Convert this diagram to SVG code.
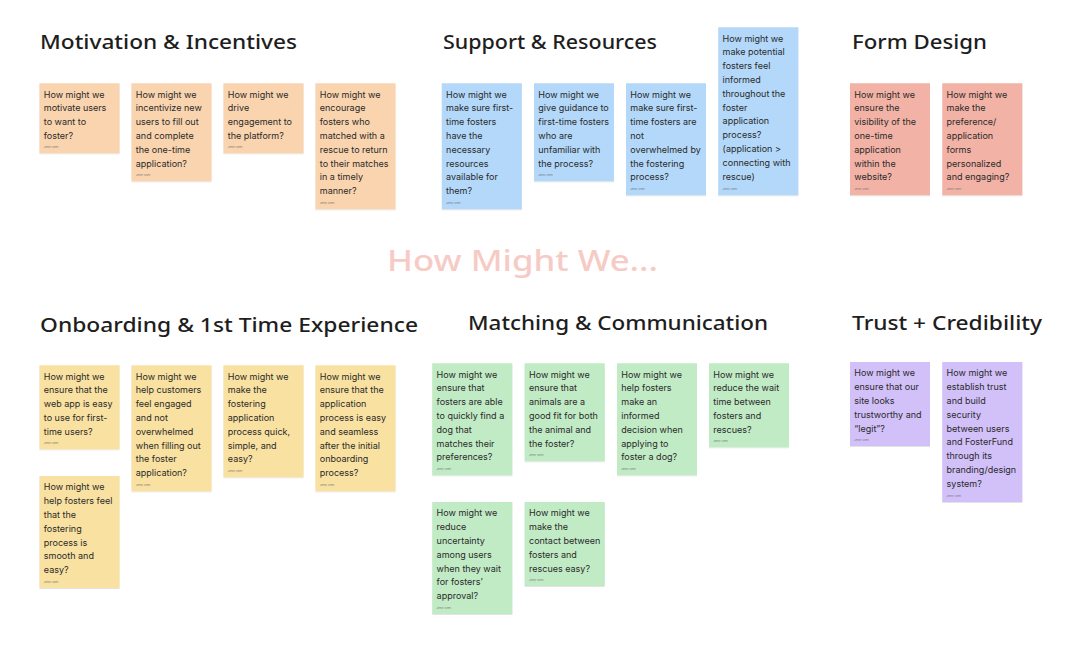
<svg xmlns="http://www.w3.org/2000/svg" width="1074" height="654" viewBox="0 0 1074 654">
<defs>
<filter id="sh" x="-10%" y="-10%" width="120%" height="120%">
<feDropShadow dx="0" dy="0.6" stdDeviation="0.7" flood-color="#000" flood-opacity="0.18"/>
</filter>
</defs>
<style>
.n{filter:url(#sh);}
.or{fill:#F9D4AF;}
.bl{fill:#B3D8F9;}
.rd{fill:#F2B2A5;}
.ye{fill:#F9E1A1;}
.gr{fill:#C1EBC5;}
.pu{fill:#D2C0F9;}
.t{font-family:Inter,"Liberation Sans",sans-serif;font-size:9px;fill:#2a2a2a;}
.a{font-family:Inter,"Liberation Sans",sans-serif;font-size:2.6px;fill:#777;}
.h{font-family:"Noto Sans","Liberation Sans",sans-serif;font-size:20px;font-weight:500;fill:#1e1e1e;}
.big{font-family:"Noto Sans","Liberation Sans",sans-serif;font-size:29px;font-weight:500;fill:#F7CBC5;}
</style>
<rect width="1074" height="654" fill="#ffffff"/>

<g id="headings">
<text class="h" x="40" y="49" textLength="257" lengthAdjust="spacingAndGlyphs">Motivation &amp; Incentives</text>
<text class="h" x="443" y="49" textLength="214" lengthAdjust="spacingAndGlyphs">Support &amp; Resources</text>
<text class="h" x="852" y="49" textLength="135" lengthAdjust="spacingAndGlyphs">Form Design</text>
<text class="big" x="387" y="271" textLength="271" lengthAdjust="spacingAndGlyphs">How Might We...</text>
<text class="h" x="40" y="332" textLength="378" lengthAdjust="spacingAndGlyphs">Onboarding &amp; 1st Time Experience</text>
<text class="h" x="468" y="330" textLength="300" lengthAdjust="spacingAndGlyphs">Matching &amp; Communication</text>
<text class="h" x="852" y="330" textLength="190" lengthAdjust="spacingAndGlyphs">Trust + Credibility</text>
</g>

<g id="connectors"></g>

<!-- Motivation & Incentives -->
<g id="m1"><rect class="n or" x="39.5" y="83.3" width="80" height="70"/>
<text class="t" y="97.6"><tspan x="43.8">How might we</tspan><tspan x="43.8" dy="13.8">motivate users</tspan><tspan x="43.8" dy="13.8">to want to</tspan><tspan x="43.8" dy="13.8">foster?</tspan></text>
<text class="a" x="43.8" y="147.8">Jenny Shen</text></g>
<g id="m2"><rect class="n or" x="131.5" y="83.3" width="80" height="98"/>
<text class="t" y="97.6"><tspan x="135.8">How might we</tspan><tspan x="135.8" dy="13.8">incentivize new</tspan><tspan x="135.8" dy="13.8">users to fill out</tspan><tspan x="135.8" dy="13.8">and complete</tspan><tspan x="135.8" dy="13.8">the one-time</tspan><tspan x="135.8" dy="13.8">application?</tspan></text>
<text class="a" x="135.8" y="175.8">Jenny Shen</text></g>
<g id="m3"><rect class="n or" x="223.5" y="83.3" width="80" height="70"/>
<text class="t" y="97.6"><tspan x="227.8">How might we</tspan><tspan x="227.8" dy="13.8">drive</tspan><tspan x="227.8" dy="13.8">engagement to</tspan><tspan x="227.8" dy="13.8">the platform?</tspan></text>
<text class="a" x="227.8" y="147.8">Jenny Shen</text></g>
<g id="m4"><rect class="n or" x="315.5" y="83.3" width="80" height="126"/>
<text class="t" y="97.6"><tspan x="319.8">How might we</tspan><tspan x="319.8" dy="13.8">encourage</tspan><tspan x="319.8" dy="13.8">fosters who</tspan><tspan x="319.8" dy="13.8">matched with a</tspan><tspan x="319.8" dy="13.8">rescue to return</tspan><tspan x="319.8" dy="13.8">to their matches</tspan><tspan x="319.8" dy="13.8">in a timely</tspan><tspan x="319.8" dy="13.8">manner?</tspan></text>
<text class="a" x="319.8" y="203.8">Jenny Shen</text></g>

<!-- Support & Resources -->
<g id="s1"><rect class="n bl" x="441.8" y="83.3" width="80" height="126"/>
<text class="t" y="97.6"><tspan x="446.1">How might we</tspan><tspan x="446.1" dy="13.8">make sure first-</tspan><tspan x="446.1" dy="13.8">time fosters</tspan><tspan x="446.1" dy="13.8">have the</tspan><tspan x="446.1" dy="13.8">necessary</tspan><tspan x="446.1" dy="13.8">resources</tspan><tspan x="446.1" dy="13.8">available for</tspan><tspan x="446.1" dy="13.8">them?</tspan></text>
<text class="a" x="446.1" y="203.8">Jenny Shen</text></g>
<g id="s2"><rect class="n bl" x="534" y="83.3" width="80" height="98"/>
<text class="t" y="97.6"><tspan x="538.3">How might we</tspan><tspan x="538.3" dy="13.8">give guidance to</tspan><tspan x="538.3" dy="13.8">first-time fosters</tspan><tspan x="538.3" dy="13.8">who are</tspan><tspan x="538.3" dy="13.8">unfamiliar with</tspan><tspan x="538.3" dy="13.8">the process?</tspan></text>
<text class="a" x="538.3" y="175.8">Jenny Shen</text></g>
<g id="s3"><rect class="n bl" x="626" y="83.3" width="80" height="112"/>
<text class="t" y="97.6"><tspan x="630.3">How might we</tspan><tspan x="630.3" dy="13.8">make sure first-</tspan><tspan x="630.3" dy="13.8">time fosters are</tspan><tspan x="630.3" dy="13.8">not</tspan><tspan x="630.3" dy="13.8">overwhelmed by</tspan><tspan x="630.3" dy="13.8">the fostering</tspan><tspan x="630.3" dy="13.8">process?</tspan></text>
<text class="a" x="630.3" y="189.8">Jenny Shen</text></g>
<g id="s4"><rect class="n bl" x="718.3" y="27.3" width="80" height="168"/>
<text class="t" y="41.6"><tspan x="722.6">How might we</tspan><tspan x="722.6" dy="13.8">make potential</tspan><tspan x="722.6" dy="13.8">fosters feel</tspan><tspan x="722.6" dy="13.8">informed</tspan><tspan x="722.6" dy="13.8">throughout the</tspan><tspan x="722.6" dy="13.8">foster</tspan><tspan x="722.6" dy="13.8">application</tspan><tspan x="722.6" dy="13.8">process?</tspan><tspan x="722.6" dy="13.8">(application &gt;</tspan><tspan x="722.6" dy="13.8">connecting with</tspan><tspan x="722.6" dy="13.8">rescue)</tspan></text>
<text class="a" x="722.6" y="189.8">Jenny Shen</text></g>

<!-- Form Design -->
<g id="f1"><rect class="n rd" x="850" y="83.3" width="80" height="112"/>
<text class="t" y="97.6"><tspan x="854.3">How might we</tspan><tspan x="854.3" dy="13.8">ensure the</tspan><tspan x="854.3" dy="13.8">visibility of the</tspan><tspan x="854.3" dy="13.8">one-time</tspan><tspan x="854.3" dy="13.8">application</tspan><tspan x="854.3" dy="13.8">within the</tspan><tspan x="854.3" dy="13.8">website?</tspan></text>
<text class="a" x="854.3" y="189.8">Jenny Shen</text></g>
<g id="f2"><rect class="n rd" x="942.3" y="83.3" width="80" height="112"/>
<text class="t" y="97.6"><tspan x="946.6">How might we</tspan><tspan x="946.6" dy="13.8">make the</tspan><tspan x="946.6" dy="13.8">preference/</tspan><tspan x="946.6" dy="13.8">application</tspan><tspan x="946.6" dy="13.8">forms</tspan><tspan x="946.6" dy="13.8">personalized</tspan><tspan x="946.6" dy="13.8">and engaging?</tspan></text>
<text class="a" x="946.6" y="189.8">Jenny Shen</text></g>

<!-- Onboarding & 1st Time Experience -->
<g id="o1"><rect class="n ye" x="39.5" y="365.3" width="80" height="84"/>
<text class="t" y="379.6"><tspan x="43.8">How might we</tspan><tspan x="43.8" dy="13.8">ensure that the</tspan><tspan x="43.8" dy="13.8">web app is easy</tspan><tspan x="43.8" dy="13.8">to use for first-</tspan><tspan x="43.8" dy="13.8">time users?</tspan></text>
<text class="a" x="43.8" y="443.8">Jenny Shen</text></g>
<g id="o2"><rect class="n ye" x="131.5" y="365.3" width="80" height="126"/>
<text class="t" y="379.6"><tspan x="135.8">How might we</tspan><tspan x="135.8" dy="13.8">help customers</tspan><tspan x="135.8" dy="13.8">feel engaged</tspan><tspan x="135.8" dy="13.8">and not</tspan><tspan x="135.8" dy="13.8">overwhelmed</tspan><tspan x="135.8" dy="13.8">when filling out</tspan><tspan x="135.8" dy="13.8">the foster</tspan><tspan x="135.8" dy="13.8">application?</tspan></text>
<text class="a" x="135.8" y="485.8">Jenny Shen</text></g>
<g id="o3"><rect class="n ye" x="223.5" y="365.3" width="80" height="112"/>
<text class="t" y="379.6"><tspan x="227.8">How might we</tspan><tspan x="227.8" dy="13.8">make the</tspan><tspan x="227.8" dy="13.8">fostering</tspan><tspan x="227.8" dy="13.8">application</tspan><tspan x="227.8" dy="13.8">process quick,</tspan><tspan x="227.8" dy="13.8">simple, and</tspan><tspan x="227.8" dy="13.8">easy?</tspan></text>
<text class="a" x="227.8" y="471.8">Jenny Shen</text></g>
<g id="o4"><rect class="n ye" x="315.5" y="365.3" width="80" height="126"/>
<text class="t" y="379.6"><tspan x="319.8">How might we</tspan><tspan x="319.8" dy="13.8">ensure that the</tspan><tspan x="319.8" dy="13.8">application</tspan><tspan x="319.8" dy="13.8">process is easy</tspan><tspan x="319.8" dy="13.8">and seamless</tspan><tspan x="319.8" dy="13.8">after the initial</tspan><tspan x="319.8" dy="13.8">onboarding</tspan><tspan x="319.8" dy="13.8">process?</tspan></text>
<text class="a" x="319.8" y="485.8">Jenny Shen</text></g>
<g id="o5"><rect class="n ye" x="39.5" y="476" width="80" height="112"/>
<text class="t" y="490.3"><tspan x="43.8">How might we</tspan><tspan x="43.8" dy="13.8">help fosters feel</tspan><tspan x="43.8" dy="13.8">that the</tspan><tspan x="43.8" dy="13.8">fostering</tspan><tspan x="43.8" dy="13.8">process is</tspan><tspan x="43.8" dy="13.8">smooth and</tspan><tspan x="43.8" dy="13.8">easy?</tspan></text>
<text class="a" x="43.8" y="582.5">Jenny Shen</text></g>

<!-- Matching & Communication -->
<g id="c1"><rect class="n gr" x="432.3" y="363.3" width="80" height="112"/>
<text class="t" y="377.6"><tspan x="436.6">How might we</tspan><tspan x="436.6" dy="13.8">ensure that</tspan><tspan x="436.6" dy="13.8">fosters are able</tspan><tspan x="436.6" dy="13.8">to quickly find a</tspan><tspan x="436.6" dy="13.8">dog that</tspan><tspan x="436.6" dy="13.8">matches their</tspan><tspan x="436.6" dy="13.8">preferences?</tspan></text>
<text class="a" x="436.6" y="469.8">Jenny Shen</text></g>
<g id="c2"><rect class="n gr" x="524.7" y="363.3" width="80" height="98"/>
<text class="t" y="377.6"><tspan x="529">How might we</tspan><tspan x="529" dy="13.8">ensure that</tspan><tspan x="529" dy="13.8">animals are a</tspan><tspan x="529" dy="13.8">good fit for both</tspan><tspan x="529" dy="13.8">the animal and</tspan><tspan x="529" dy="13.8">the foster?</tspan></text>
<text class="a" x="529" y="455.8">Jenny Shen</text></g>
<g id="c3"><rect class="n gr" x="617" y="363.3" width="80" height="112"/>
<text class="t" y="377.6"><tspan x="621.3">How might we</tspan><tspan x="621.3" dy="13.8">help fosters</tspan><tspan x="621.3" dy="13.8">make an</tspan><tspan x="621.3" dy="13.8">informed</tspan><tspan x="621.3" dy="13.8">decision when</tspan><tspan x="621.3" dy="13.8">applying to</tspan><tspan x="621.3" dy="13.8">foster a dog?</tspan></text>
<text class="a" x="621.3" y="469.8">Jenny Shen</text></g>
<g id="c4"><rect class="n gr" x="709" y="363.3" width="80" height="84"/>
<text class="t" y="377.6"><tspan x="713.3">How might we</tspan><tspan x="713.3" dy="13.8">reduce the wait</tspan><tspan x="713.3" dy="13.8">time between</tspan><tspan x="713.3" dy="13.8">fosters and</tspan><tspan x="713.3" dy="13.8">rescues?</tspan></text>
<text class="a" x="713.3" y="441.8">Jenny Shen</text></g>
<g id="c5"><rect class="n gr" x="432.3" y="502" width="80" height="112"/>
<text class="t" y="516.3"><tspan x="436.6">How might we</tspan><tspan x="436.6" dy="13.8">reduce</tspan><tspan x="436.6" dy="13.8">uncertainty</tspan><tspan x="436.6" dy="13.8">among users</tspan><tspan x="436.6" dy="13.8">when they wait</tspan><tspan x="436.6" dy="13.8">for fosters’</tspan><tspan x="436.6" dy="13.8">approval?</tspan></text>
<text class="a" x="436.6" y="608.5">Jenny Shen</text></g>
<g id="c6"><rect class="n gr" x="524.7" y="502" width="80" height="84"/>
<text class="t" y="516.3"><tspan x="529">How might we</tspan><tspan x="529" dy="13.8">make the</tspan><tspan x="529" dy="13.8">contact between</tspan><tspan x="529" dy="13.8">fosters and</tspan><tspan x="529" dy="13.8">rescues easy?</tspan></text>
<text class="a" x="529" y="580.5">Jenny Shen</text></g>

<!-- Trust + Credibility -->
<g id="t1"><rect class="n pu" x="850" y="362" width="80" height="84"/>
<text class="t" y="376.3"><tspan x="854.3">How might we</tspan><tspan x="854.3" dy="13.8">ensure that our</tspan><tspan x="854.3" dy="13.8">site looks</tspan><tspan x="854.3" dy="13.8">trustworthy and</tspan><tspan x="854.3" dy="13.8">“legit”?</tspan></text>
<text class="a" x="854.3" y="440.5">Jenny Shen</text></g>
<g id="t2"><rect class="n pu" x="942.3" y="362" width="80" height="140"/>
<text class="t" y="376.3"><tspan x="946.6">How might we</tspan><tspan x="946.6" dy="13.8">establish trust</tspan><tspan x="946.6" dy="13.8">and build</tspan><tspan x="946.6" dy="13.8">security</tspan><tspan x="946.6" dy="13.8">between users</tspan><tspan x="946.6" dy="13.8">and FosterFund</tspan><tspan x="946.6" dy="13.8">through its</tspan><tspan x="946.6" dy="13.8">branding/design</tspan><tspan x="946.6" dy="13.8">system?</tspan></text>
<text class="a" x="946.6" y="496.5">Jenny Shen</text></g>
</svg>
